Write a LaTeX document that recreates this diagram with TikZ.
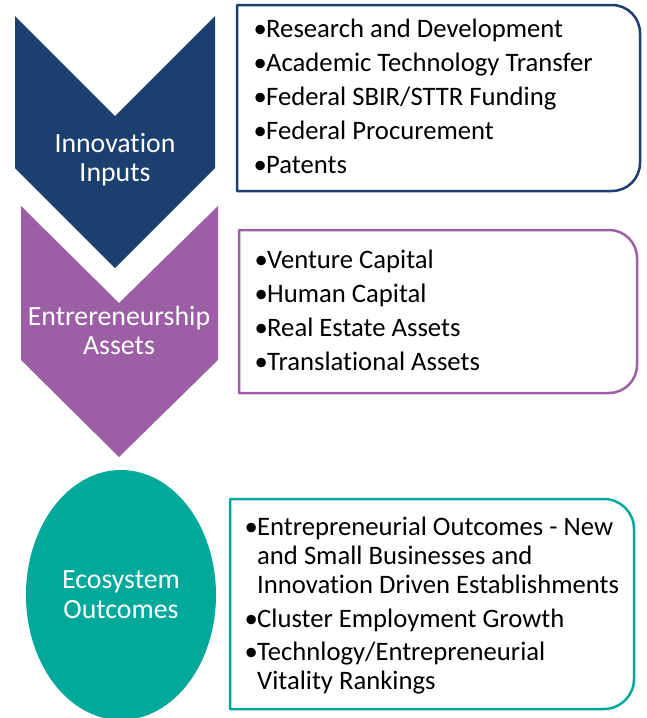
\documentclass[tikz,border=0pt]{standalone}
\usepackage{fontspec}
\setmainfont{Carlito}[Ligatures={NoCommon,NoRare,NoContextual}]
\definecolor{inputsblue}{HTML}{1B3F6E}
\definecolor{assetsplum}{HTML}{9C5FA6}
\definecolor{outcometeal}{HTML}{00A99A}
\newcommand{\bulletmark}{\makebox[12pt][c]{•}}
\begin{document}
\begin{tikzpicture}[x=1pt,y=-1pt,
  listline/.style={anchor=base west, inner sep=0pt, font=\fontsize{26.67}{29}\selectfont, text=black},
  stagelabel/.style={anchor=base, inner sep=0pt, font=\fontsize{27.8}{30}\selectfont, text=white},
  listbox/.style={line width=2.5pt, fill=white, line join=round}]
\useasboundingbox (0,0) rectangle (647,718);
\clip (0,0) rectangle (647,718);

% stage shapes
\fill[inputsblue] (15,16) -- (115,116) -- (215,16) -- (215,168) -- (115,268) -- (15,168) -- cycle;
\fill[assetsplum] (21,206) -- (119,303) -- (218,206) -- (218,360) -- (119,457) -- (21,360) -- cycle;
\fill[outcometeal] (121,595) ellipse [x radius=95, y radius=125];

% list boxes, rounded on the right side only
\draw[listbox, draw=inputsblue] (237,5) -- (612,5) arc[start angle=-90, end angle=0, radius=28]
  -- (640,163) arc[start angle=0, end angle=90, radius=28] -- (237,191) -- cycle;
\draw[listbox, draw=assetsplum] (239,230) -- (609,230) arc[start angle=-90, end angle=0, radius=28]
  -- (637,365) arc[start angle=0, end angle=90, radius=28] -- (239,393) -- cycle;
\draw[listbox, draw=outcometeal] (230,499) -- (604,499) arc[start angle=-90, end angle=0, radius=30]
  -- (634,679) arc[start angle=0, end angle=90, radius=30] -- (230,709) -- cycle;

% stage labels
\node[stagelabel] (inA) at (115,152) {Innovation};
\node[stagelabel] (inB) at (115,181) {Inputs};
\node[stagelabel] (asA) at (119,325) {Entrereneurship};
\node[stagelabel] (asB) at (119,354) {Assets};
\node[stagelabel] (ecA) at (121,588) {Ecosystem};
\node[stagelabel] (ecB) at (121,618) {Outcomes};

% inputs list
\node[listline] (i1) at (254,37) {\bulletmark Research and Development};
\node[listline] (i2) at (254,71) {\bulletmark Academic Technology Transfer};
\node[listline] (i3) at (254,105) {\bulletmark Federal SBIR/STTR Funding};
\node[listline] (i4) at (254,139) {\bulletmark Federal Procurement};
\node[listline] (i5) at (254,173) {\bulletmark Patents};

% assets list
\node[listline] (a1) at (255,268) {\bulletmark Venture Capital};
\node[listline] (a2) at (255,302) {\bulletmark Human Capital};
\node[listline] (a3) at (255,336) {\bulletmark Real Estate Assets};
\node[listline] (a4) at (255,370) {\bulletmark Translational Assets};

% outcomes list
\node[listline] (o1) at (245,535) {\bulletmark Entrepreneurial Outcomes - New};
\node[listline] (o1b) at (257,564) {and Small Businesses and};
\node[listline] (o1c) at (257,593) {Innovation Driven Establishments};
\node[listline] (o2) at (245,627) {\bulletmark Cluster Employment Growth};
\node[listline] (o3) at (245,660) {\bulletmark Technlogy/Entrepreneurial};
\node[listline] (o3b) at (257,689) {Vitality Rankings};
\end{tikzpicture}
\end{document}
